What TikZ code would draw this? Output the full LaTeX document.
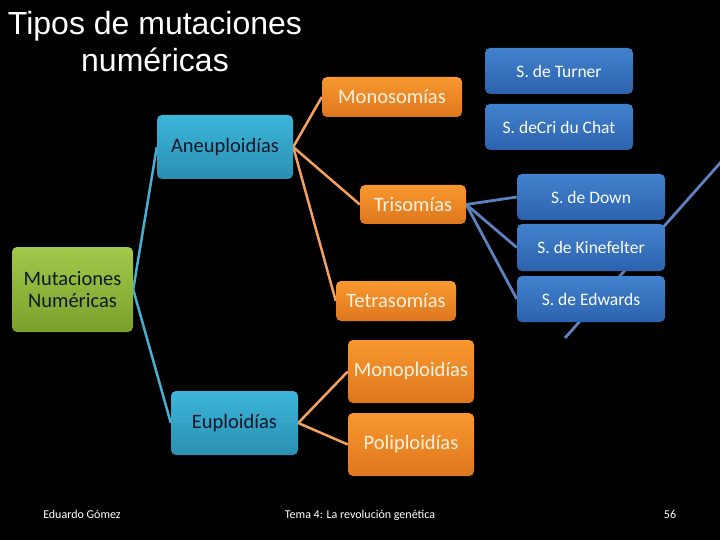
\documentclass[tikz,border=0pt]{standalone}
\usepackage{fontspec}
\setmainfont{Carlito}
\newfontfamily\titlefont{Liberation Sans}
\definecolor{grnT}{HTML}{A2C94A}
\definecolor{grnB}{HTML}{7AA02C}
\definecolor{cyaT}{HTML}{3CB6DA}
\definecolor{cyaB}{HTML}{2A8FB2}
\definecolor{orgT}{HTML}{F8982F}
\definecolor{orgB}{HTML}{DE771E}
\definecolor{bluT}{HTML}{4282CE}
\definecolor{bluB}{HTML}{2C62AD}
\definecolor{lnCya}{HTML}{4AAED0}
\definecolor{lnOrg}{HTML}{F4A060}
\definecolor{lnBlu}{HTML}{5B82BF}
\definecolor{darktxt}{HTML}{101828}
\definecolor{creamtxt}{HTML}{FFF3E0}
\pgfdeclarelayer{bg}
\pgfdeclarelayer{edges}
\pgfsetlayers{bg,edges,main}
\tikzset{
  box/.style={rectangle, rounded corners=5pt, inner sep=0pt, align=center, shading=axis, shading angle=0},
  greenbox/.style={box, top color=grnT, bottom color=grnB, text=darktxt, font=\fontsize{20.5}{22.5}\selectfont},
  cyanbox/.style={box, top color=cyaT, bottom color=cyaB, text=darktxt, font=\fontsize{20.5}{22.5}\selectfont},
  orangebox/.style={box, top color=orgT, bottom color=orgB, text=creamtxt, font=\fontsize{20.5}{22.5}\selectfont},
  bluebox/.style={box, top color=bluT, bottom color=bluB, text=white, font=\fontsize{17.5}{20}\selectfont},
  cyaline/.style={draw=lnCya, line width=2.5pt},
  orgline/.style={draw=lnOrg, line width=2.5pt},
  bluline/.style={draw=lnBlu, line width=2.8pt},
  foot/.style={text=white, font=\fontsize{12}{14}\selectfont, inner sep=0pt, anchor=base},
  titletxt/.style={text=white, font=\titlefont\fontsize{32}{37}\selectfont, inner sep=0pt, anchor=base}
}
\begin{document}
\begin{tikzpicture}[x=1pt,y=-1pt]
\begin{pgfonlayer}{bg}
\fill[black] (0,0) rectangle (720,540);
\end{pgfonlayer}
\useasboundingbox (0,0) rectangle (720,540);

% title
\node[titletxt] (t1) at (155,35) {Tipos de mutaciones};
\node[titletxt] (t2) at (155,72) {numéricas};

% level 0
\node[greenbox, minimum width=121pt, minimum height=85pt] (mut) at (72.5,289.5) {Mutaciones\\Numéricas};

% level 1
\node[cyanbox, minimum width=136pt, minimum height=64pt] (ane) at (225,147) {Aneuploidías};
\node[cyanbox, minimum width=127pt, minimum height=64pt] (eup) at (234.5,423) {Euploidías};

% level 2
\node[orangebox, minimum width=140pt, minimum height=40pt] (mono) at (392,97) {Monosomías};
\node[orangebox, minimum width=106pt, minimum height=39pt] (tri) at (413,204.5) {Trisomías};
\node[orangebox, minimum width=120pt, minimum height=40pt] (tetra) at (396,301) {Tetrasomías};
\node[orangebox, minimum width=126pt, minimum height=63pt] (monop) at (411,371.5) {Monoploidías};
\node[orangebox, minimum width=126pt, minimum height=63pt] (polip) at (411,444.5) {Poliploidías};

% level 3
\node[bluebox, minimum width=148pt, minimum height=46pt] (turner) at (559,71) {S. de Turner};
\node[bluebox, minimum width=148pt, minimum height=46pt] (cri) at (559,127) {S. deCri du Chat};
\node[bluebox, minimum width=148pt, minimum height=46pt] (down) at (591,197) {S. de Down};
\node[bluebox, minimum width=148pt, minimum height=47pt] (kine) at (591,247.5) {S. de Kinefelter};
\node[bluebox, minimum width=148pt, minimum height=46pt] (edw) at (591,299) {S. de Edwards};

% free line ends
\coordinate (s1) at (565,338);
\coordinate (s2) at (721,162);

\begin{pgfonlayer}{edges}
\draw[cyaline] (mut.east) -- (ane.west);
\draw[cyaline] (mut.east) -- (eup.west);
\draw[orgline] (ane.east) -- (mono.west);
\draw[orgline] (ane.east) -- (tri.west);
\draw[orgline] (ane.east) -- (tetra.west);
\draw[orgline] (eup.east) -- (monop.west);
\draw[orgline] (eup.east) -- (polip.west);
\draw[bluline] (tri.east) -- (down.west);
\draw[bluline] (tri.east) -- (kine.west);
\draw[bluline] (tri.east) -- (edw.west);
\draw[bluline] (s1) -- (s2);
\end{pgfonlayer}

% footer
\node[foot] (f1) at (82,518) {Eduardo Gómez};
\node[foot] (f2) at (360,518) {Tema 4: La revolución genética};
\node[foot] (f3) at (670,518) {56};
\end{tikzpicture}
\end{document}
